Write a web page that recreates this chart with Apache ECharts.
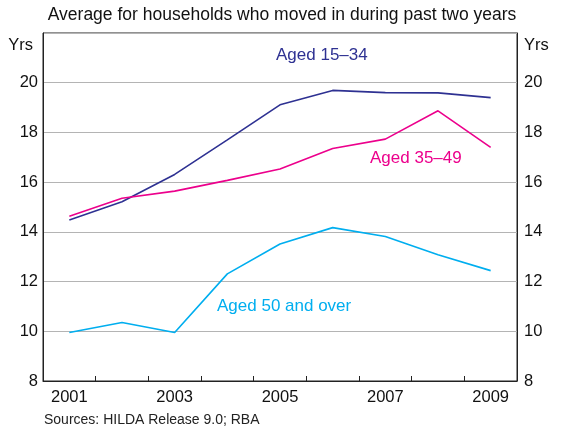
<!DOCTYPE html>
<html><head><meta charset="utf-8">
<script src="https://cdn.jsdelivr.net/npm/echarts@6/dist/echarts.min.js"></script>
<style>html,body{margin:0;padding:0;background:#fff}#c{width:561px;height:430px}</style>
</head><body><div id="c"></div>
<script>
const years = ['2001','2002','2003','2004','2005','2006','2007','2008','2009'];
const aged15to34 = [14.48, 15.21, 16.31, 17.7, 19.11, 19.69, 19.6, 19.59, 19.4];
const aged35to49 = [14.63, 15.35, 15.64, 16.07, 16.53, 17.35, 17.73, 18.87, 17.4];
const aged50plus = [9.95, 10.35, 9.95, 12.31, 13.51, 14.17, 13.81, 13.08, 12.44];
const yTicks = [8, 10, 12, 14, 16, 18, 20];

const F = 'Liberation Sans, Arial, sans-serif';
const chart = echarts.init(document.getElementById('c'), null, {renderer:'canvas'});
const yAxisBase = {
  type:'value', min:8, max:22, interval:2,
  axisLine:{show:true, lineStyle:{color:'#222', width:1}},
  axisTick:{show:false},
  axisLabel:{fontFamily:F, fontSize:16.5, color:'#111',
    formatter: v => yTicks.includes(v) ? String(v) : ''},
  splitLine:{show:true, lineStyle:{color:'#b4b4b4', width:1}}
};
chart.setOption({
  animation:false,
  grid:{left:43, right:44, top:33, bottom:49, show:true, borderColor:'#222', borderWidth:1},
  xAxis:{type:'category', data:years, boundaryGap:true,
    axisLine:{lineStyle:{color:'#222', width:1}},
    axisTick:{show:true, inside:true, length:5, interval:0, lineStyle:{color:'#222'}},
    axisLabel:{interval:1, fontFamily:F, fontSize:16.5, color:'#111', margin:8}},
  yAxis:[Object.assign({position:'left'}, yAxisBase, {axisLabel:Object.assign({}, yAxisBase.axisLabel, {margin:5})}),
         Object.assign({position:'right'}, yAxisBase, {splitLine:{show:false}, axisLabel:Object.assign({}, yAxisBase.axisLabel, {margin:7})})],
  series:[
    {name:'Aged 15–34', type:'line', data:aged15to34, showSymbol:false, lineStyle:{color:'#2e3192', width:1.6}},
    {name:'Aged 35–49', type:'line', data:aged35to49, showSymbol:false, lineStyle:{color:'#ec008c', width:1.6}},
    {name:'Aged 50 and over', type:'line', data:aged50plus, showSymbol:false, lineStyle:{color:'#00aeef', width:1.6}}
  ],
  graphic:[
    {type:'text', x:282, y:15, style:{text:'Average for households who moved in during past two years', font:'17.5px '+F, fill:'#111', align:'center', verticalAlign:'middle'}},
    {type:'text', x:33, y:45, style:{text:'Yrs', font:'16.5px '+F, fill:'#111', align:'right', verticalAlign:'middle'}},
    {type:'text', x:524, y:45, style:{text:'Yrs', font:'16.5px '+F, fill:'#111', align:'left', verticalAlign:'middle'}},
    {type:'text', x:276, y:55, style:{text:'Aged 15–34', font:'17px '+F, fill:'#2e3192', verticalAlign:'middle'}},
    {type:'text', x:370, y:158, style:{text:'Aged 35–49', font:'17px '+F, fill:'#ec008c', verticalAlign:'middle'}},
    {type:'text', x:217, y:306, style:{text:'Aged 50 and over', font:'17px '+F, fill:'#00aeef', verticalAlign:'middle'}},
    {type:'text', x:44, y:420, style:{text:'Sources: HILDA Release 9.0; RBA', font:'14px '+F, fill:'#222', verticalAlign:'middle'}}
  ]
});
</script></body></html>
